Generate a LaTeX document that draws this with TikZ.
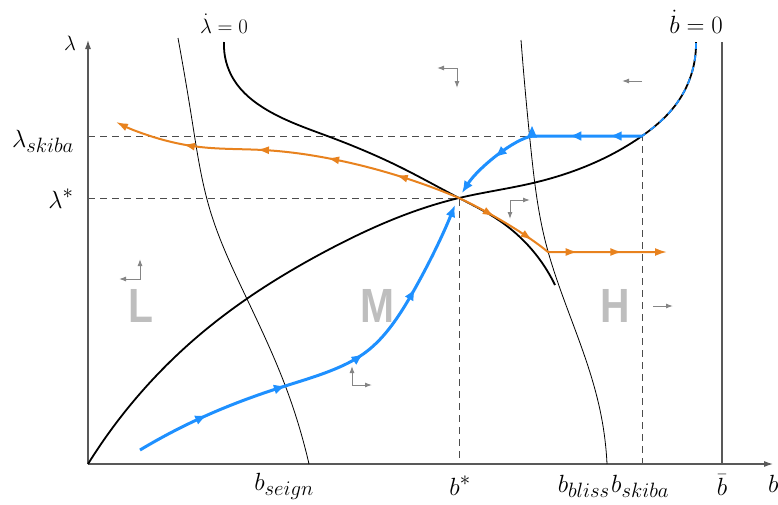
\documentclass[tikz,border=0pt]{standalone}
\usepackage{fontspec}
\newfontfamily\regfont[FakeStretch=0.85]{Liberation Sans}
\usetikzlibrary{arrows.meta,decorations.markings,hobby}
\definecolor{myblue}{HTML}{1E90FF}
\definecolor{myorange}{HTML}{E8821E}
\definecolor{regiongray}{HTML}{BEBEBE}
\definecolor{dirgray}{HTML}{858585}
\begin{document}
\begin{tikzpicture}[x=1pt,y=-1pt,
  axisline/.style={draw=black!65, line width=1.1pt},
  guide/.style={draw=black!70, line width=1pt, dash pattern=on 7pt off 5pt},
  nullc/.style={draw=black, line width=1.8pt},
  thinc/.style={draw=black, line width=0.8pt},
  orangepath/.style={draw=myorange, line width=2pt},
  bluepath/.style={draw=myblue, line width=3pt},
  dirline/.style={draw=dirgray, line width=1pt},
  region/.style={text=regiongray, font=\regfont\bfseries\fontsize{48}{48}\selectfont, inner sep=0pt},
  lab/.style={inner sep=0pt, font=\Huge},
  labsmall/.style={inner sep=0pt, font=\huge},
  otip/.tip={Latex[length=12pt,width=8pt]},
  btip/.tip={Latex[length=12pt,width=10pt]},
  gtip/.tip={Latex[length=7pt,width=5pt]},
  atip/.tip={Latex[length=9pt,width=6pt]}
]
\useasboundingbox (0,0) rectangle (778,504);

% guides
\draw[guide] (88,136) -- (642,136) -- (642,464);
\draw[guide] (88,198) -- (459,198) -- (459,464);

% axes
\coordinate (O) at (88,464);
\coordinate (ytop) at (88,40);
\coordinate (xend) at (773,464);
\draw[axisline, -{atip}] (O) -- (ytop);
\draw[axisline, -{atip}] (O) -- (xend);
\coordinate (bbartop) at (722,42);
\coordinate (bbarbot) at (722,464);
\draw[axisline] (bbarbot) -- (bbartop);

% thin curves
\draw[thinc, use Hobby shortcut] (178,38) .. (192,120) .. (210,210) .. (247,299) .. (285,385) .. (309,464);
\draw[thinc, use Hobby shortcut] (521,40) .. (531,150) .. (545,240) .. (580,343) .. (600,410) .. (607,464);

% nullclines
\draw[nullc, use Hobby shortcut] (224,42) .. (234,80) .. (267,110) .. (330,137) .. (400,167) .. (459,198) .. (500,221) .. (555,285);
\def\bdotcurve{(88,464) .. (197,337) .. (328,250) .. (459,198) .. (533,183) .. (642,136) .. (677,103) .. (696,42)}
\draw[nullc, use Hobby shortcut] \bdotcurve;
\begin{scope}
\clip (642,0) rectangle (778,136.5);
\draw[draw=myblue, line width=1.8pt, dash pattern=on 6pt off 6pt, use Hobby shortcut] \bdotcurve;
\end{scope}

% orange paths
\draw[orangepath, -{otip}, use Hobby shortcut, postaction={decorate}, decoration={markings,
  mark=at position 0.19 with {\arrow{otip}},
  mark=at position 0.39 with {\arrow{otip}},
  mark=at position 0.59 with {\arrow{otip}},
  mark=at position 0.80 with {\arrow{otip}}}]
  (459,198) .. (402,177) .. (332,159) .. (263,150) .. (200,147) .. (160,139) .. (116,122);
\draw[orangepath, -{otip}, postaction={decorate}, decoration={markings,
  mark=at position 0.18 with {\arrow{otip}},
  mark=at position 0.38 with {\arrow{otip}},
  mark=at position 0.60 with {\arrow{otip}},
  mark=at position 0.80 with {\arrow{otip}}}]
  (459,198) .. controls (485,210) and (525,233) .. (548,252) -- (667,252);

% blue paths
\draw[bluepath, -{btip}, postaction={decorate}, decoration={markings,
  mark=at position 0.16 with {\arrow{btip}},
  mark=at position 0.36 with {\arrow{btip}},
  mark=at position 0.76 with {\arrow{btip}}}]
  (642,136) -- (533,136) .. controls (515,138) and (478,168) .. (462,193);
\fill[myblue] (527,137.5) -- (537,137.5) -- (532,126);
\draw[bluepath, -{btip}, use Hobby shortcut, postaction={decorate}, decoration={markings,
  mark=at position 0.18 with {\arrow{btip}},
  mark=at position 0.38 with {\arrow{btip}},
  mark=at position 0.58 with {\arrow{btip}},
  mark=at position 0.78 with {\arrow{btip}}}]
  (140,450) .. (203,417) .. (282,387) .. (335,369) .. (366,352) .. (392,325) .. (413,292) .. (455,205);

% direction arrows
\draw[dirline, {gtip}-{gtip}] (119,279) -- (140,279) -- (140,259);
\draw[dirline, {gtip}-{gtip}] (437,68) -- (457,68) -- (457,88);
\draw[dirline, {gtip}-{gtip}] (530,200) -- (510,200) -- (510,219);
\draw[dirline, {gtip}-{gtip}] (352,366) -- (352,385) -- (372,385);
\draw[dirline, -{gtip}] (642,81) -- (622,81);
\draw[dirline, -{gtip}] (653,306) -- (673,306);

% region letters
\node[region] (regL) at (140.5,305.5) {L};
\node[region] (regM) at (377.5,305.5) {M};
\node[region] (regH) at (615.5,305.5) {H};

% labels
\node[labsmall, anchor=base] (lamdot) at (224,33) {$\dot\lambda = 0$};
\node[lab, anchor=base] (bdot) at (696,33) {$\dot b = 0$};
\node[labsmall, anchor=base] (lamax) at (70,50) {$\lambda$};
\node[lab, anchor=base] (lamskiba) at (43,147) {$\lambda_{skiba}$};
\node[lab, anchor=base] (lamstar) at (61,208) {$\lambda^*$};
\node[lab, anchor=base] (bseign) at (284,490) {$b_{seign}$};
\node[lab, anchor=base] (bstar) at (460,495) {$b^*$};
\node[lab, anchor=base east] (bbliss) at (610,492) {$b_{bliss}$};
\node[lab, anchor=base west] (bskiba) at (611,492) {$b_{skiba}$};
\node[lab, anchor=base] (bbar) at (722,495) {$\bar b$};
\node[lab, anchor=base west] (baxis) at (768,492) {$b$};
\end{tikzpicture}
\end{document}
